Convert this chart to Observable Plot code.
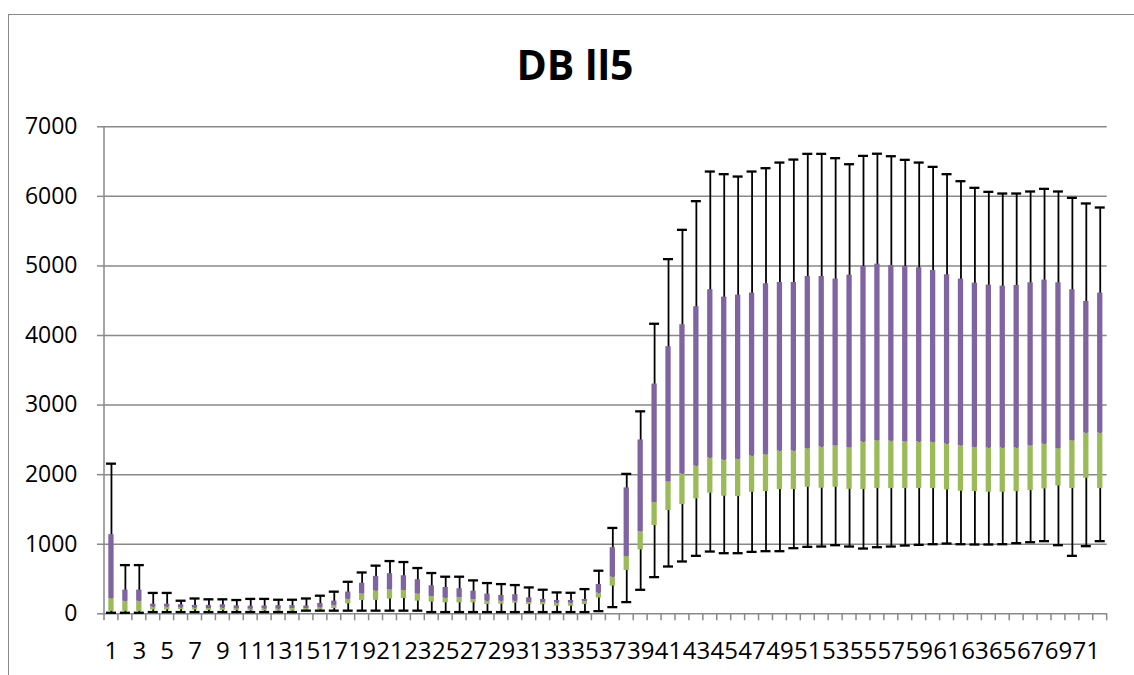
<!DOCTYPE html>
<html><head><meta charset="utf-8">
<script src="https://cdn.jsdelivr.net/npm/d3@7"></script>
<script src="https://cdn.jsdelivr.net/npm/@observablehq/plot@0.6"></script>
<style>
body{margin:0;background:#fff}
#wrap{position:relative;width:1134px;height:675px;overflow:hidden;background:#fff;font-family:"Open Sans",sans-serif}
#frame{position:absolute;left:8px;top:14px;width:1200px;height:700px;border-left:1.5px solid #8a8a8a;border-top:1.5px solid #8a8a8a}
#title{position:absolute;left:0;top:44px;width:1150px;text-align:center;font-weight:700;font-size:41px;line-height:41px;color:#000}
#chart{position:absolute;left:0;top:100px}
</style></head>
<body><div id="wrap"><div id="frame"></div><div id="title">DB ll5</div><div id="chart"></div></div>
<script>
const categories = [1,2,3,4,5,6,7,8,9,10,11,12,13,14,15,16,17,18,19,20,21,22,23,24,25,26,27,28,29,30,31,32,33,34,35,36,37,38,39,40,41,42,43,44,45,46,47,48,49,50,51,52,53,54,55,56,57,58,59,60,61,62,63,64,65,66,67,68,69,70,71,72];
const whiskerMax = [2158,700,700,300,300,188,220,208,208,198,214,214,202,202,220,260,318,460,594,692,758,744,658,586,533,533,480,442,427,413,379,346,307,302,355,619,1234,2011,2910,4169,5098,5519,5931,6357,6319,6285,6357,6405,6486,6529,6611,6611,6549,6462,6582,6613,6577,6525,6486,6424,6319,6218,6123,6065,6041,6041,6070,6108,6070,5979,5898,5840];
const q3 = [1137,340,340,138,138,130,121,121,130,114,109,112,118,118,112,148,183,313,440,538,577,547,490,403,379,360,326,283,264,274,230,206,192,192,206,422,951,1810,2499,3303,3839,4155,4414,4658,4552,4581,4610,4744,4763,4763,4849,4849,4811,4868,4993,5026,5007,4993,4974,4935,4873,4811,4753,4725,4710,4720,4758,4797,4758,4658,4490,4610];
const median = [218,180,180,97,97,86,83,76,83,73,69,71,69,76,76,88,121,210,290,330,348,336,288,250,226,235,206,182,182,182,163,163,154,154,178,298,528,823,1182,1599,1900,2011,2125,2240,2212,2221,2269,2288,2341,2341,2374,2398,2417,2389,2470,2489,2484,2475,2470,2465,2441,2417,2393,2384,2384,2384,2417,2441,2374,2489,2599,2599];
const q1 = [35,35,35,55,55,58,55,50,50,48,42,42,37,40,50,56,76,143,190,193,212,221,182,168,158,158,158,134,139,154,134,130,110,110,134,226,398,622,919,1269,1484,1570,1652,1733,1690,1685,1747,1757,1786,1786,1819,1805,1819,1790,1786,1802,1800,1800,1800,1800,1781,1762,1757,1747,1747,1757,1771,1795,1838,1800,1948,1800];
const whiskerMin = [15,15,15,25,25,25,25,25,25,25,25,25,25,25,45,45,45,45,45,45,45,45,45,25,25,25,25,25,25,25,25,25,25,25,25,38,96,168,345,527,680,752,833,895,871,871,890,900,900,943,962,967,986,967,938,957,967,981,991,1000,1010,1000,996,996,1000,1015,1029,1044,986,833,972,1044];
const yTicks = [0,1000,2000,3000,4000,5000,6000,7000];
const xTickLabels = [1,3,5,7,9,11,13,15,17,19,21,23,25,27,29,31,33,35,37,39,41,43,45,47,49,51,53,55,57,59,61,63,65,67,69,71];

const rows = categories.map((c, i) => ({cat: c, max: whiskerMax[i], q3: q3[i], med: median[i], q1: q1[i], min: whiskerMin[i]}));

const W = 1134, H = 575;
const mL = 104, mR = 27.3, mT = 26.3, mB = 61.7;
const band = (W - mL - mR) / categories.length;
const barInset = (band - 5.3) / 2;
const capInset = (band - 10) / 2;
const gray = "#898989";

function yAxisLine(index, scales, values, dims) {
  const g = d3.create("svg:g");
  g.append("line")
    .attr("x1", dims.marginLeft).attr("x2", dims.marginLeft)
    .attr("y1", dims.marginTop).attr("y2", dims.height - dims.marginBottom)
    .attr("stroke", gray).attr("stroke-width", 1.5);
  return g.node();
}
function xTickMarks(index, scales, values, dims) {
  const g = d3.create("svg:g");
  const x = scales.x;
  const bw = x.bandwidth ? x.bandwidth() : band;
  const xs = categories.map(c => x(c)).concat([x(categories[categories.length - 1]) + bw]);
  const y0 = dims.height - dims.marginBottom;
  g.selectAll("line").data(xs).join("line")
    .attr("x1", d => d).attr("x2", d => d)
    .attr("y1", y0).attr("y2", y0 + 7)
    .attr("stroke", gray).attr("stroke-width", 1.5);
  return g.node();
}

const chart = Plot.plot({
  width: W, height: H,
  marginLeft: mL, marginRight: mR, marginTop: mT, marginBottom: mB,
  style: {background: "transparent", fontFamily: "'Open Sans', sans-serif", color: "#000", overflow: "visible"},
  x: {type: "band", domain: categories, padding: 0, label: null},
  y: {domain: [0, 7000], label: null},
  marks: [
    Plot.ruleY(yTicks, {stroke: gray, strokeWidth: 1.5}),
    Plot.ruleX(rows, {x: "cat", y1: "min", y2: "max", stroke: "#000", strokeWidth: 1.8}),
    Plot.barY(rows, {x: "cat", y1: "q1", y2: "med", fill: "#9BBB59", insetLeft: barInset, insetRight: barInset}),
    Plot.barY(rows, {x: "cat", y1: "med", y2: "q3", fill: "#8064A2", insetLeft: barInset, insetRight: barInset}),
    Plot.tickY(rows, {x: "cat", y: "max", stroke: "#000", strokeWidth: 2.3, insetLeft: capInset, insetRight: capInset}),
    Plot.tickY(rows, {x: "cat", y: "min", stroke: "#000", strokeWidth: 2.3, insetLeft: capInset, insetRight: capInset}),
    yAxisLine,
    xTickMarks,
    Plot.axisY({ticks: yTicks, tickSize: 7, tickPadding: 20, stroke: gray, strokeWidth: 1.5, fontSize: 23, fill: "#000", tickFormat: d => String(d)}),
    Plot.axisX({ticks: xTickLabels, tickSize: 0, tickPadding: 28, fontSize: 24, fill: "#000", tickFormat: d => String(d)})
  ]
});
document.getElementById("chart").appendChild(chart);
</script>
</body></html>
